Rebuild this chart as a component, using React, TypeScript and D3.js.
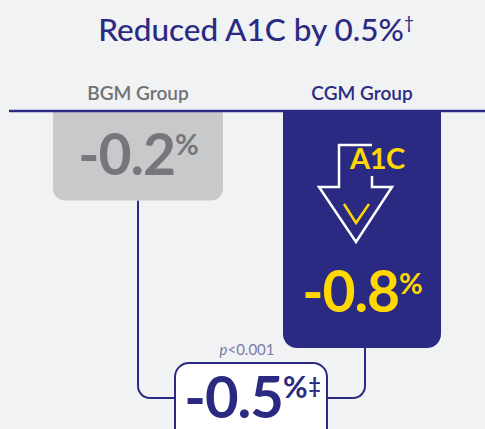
import React from "react";
import * as d3 from "d3";

const groups = ["BGM Group", "CGM Group"];
const changes = [-0.2, -0.8];
const difference = -0.5;
const pLabel = "p<0.001";
const title = "Reduced A1C by 0.5%";

const W = 485;
const H = 429;
const NAVY = "#2b2a82";
const YELLOW = "#ffd800";
const FONT = "Lato, 'Open Sans', sans-serif";

const App = () => {
  // x centres of the two columns
  const x = d3.scalePoint<string>().domain(groups).range([138, 362]);
  const barW = [170, 158];
  const axisY = 111;
  // bars grow down from the axis line; a small offset leaves room for the big number
  const y = d3.scaleLinear().domain([0.16, -0.8]).range([112, 348]);
  const fmt = (v: number) => d3.format(".1f")(v).replace("−", "-");

  const barPath = (cx: number, w: number, v: number, r: number) => {
    const x0 = cx - w / 2;
    const x1 = cx + w / 2;
    const y0 = 112;
    const y1 = y(v);
    const p = d3.path();
    p.moveTo(x0, y0);
    p.lineTo(x1, y0);
    p.lineTo(x1, y1 - r);
    p.arcTo(x1, y1, x1 - r, y1, r);
    p.lineTo(x0 + r, y1);
    p.arcTo(x0, y1, x0, y1 - r, r);
    p.closePath();
    return p.toString();
  };

  const leftX = x(groups[0])!;
  const rightX = x(groups[1])! + 3;
  const linkY = 398;
  const boxL = 175;
  const boxR = 327;
  const boxT = 363;
  const r = 12;

  const leftLink = d3.path();
  leftLink.moveTo(leftX, y(changes[0]));
  leftLink.lineTo(leftX, linkY - r);
  leftLink.arcTo(leftX, linkY, leftX + r, linkY, r);
  leftLink.lineTo(boxL, linkY);

  const rightLink = d3.path();
  rightLink.moveTo(rightX, y(changes[1]));
  rightLink.lineTo(rightX, linkY - r);
  rightLink.arcTo(rightX, linkY, rightX - r, linkY, r);
  rightLink.lineTo(boxR, linkY);

  const cgmX = x(groups[1])!;

  return (
    <svg
      width={W}
      height={H}
      style={{ position: "absolute", left: 0, top: 0, display: "block" }}
      fontFamily={FONT}
    >
      <rect width={W} height={H} fill="#f1f2f4" />

      <text x={256} y={41} textAnchor="middle" fill={NAVY} fontSize={31.5} fontWeight={500}>
        {title}
        <tspan fontSize={17} dy={-12}>†</tspan>
      </text>

      {groups.map((g, i) => (
        <text
          key={g}
          x={x(g)}
          y={100}
          textAnchor="middle"
          fontSize={19}
          fontWeight={600}
          fill={i === 0 ? "#707173" : NAVY}
        >
          {g}
        </text>
      ))}

      <path d={leftLink.toString()} fill="none" stroke={NAVY} strokeWidth={2} />
      <path d={rightLink.toString()} fill="none" stroke={NAVY} strokeWidth={2} />

      {groups.map((g, i) => (
        <path
          key={g}
          d={barPath(x(g)!, barW[i], changes[i], i === 0 ? 12 : 14)}
          fill={i === 0 ? "#c8c9cb" : NAVY}
        />
      ))}

      <line x1={9} x2={W} y1={axisY} y2={axisY} stroke={NAVY} strokeWidth={2.5} />

      {/* BGM value */}
      <text
        x={leftX}
        y={175}
        textAnchor="middle"
        fill="#76777a"
        fontSize={57}
        fontWeight={700}
        letterSpacing={-1}
      >
        {fmt(changes[0])}
        <tspan fontSize={29} dy={-20}>%</tspan>
      </text>

      {/* A1C arrow icon */}
      <g fill="none" stroke="#fff" strokeWidth={2.5} strokeLinejoin="miter">
        <path
          d={`M${cgmX + 10},145 H${cgmX - 23} V187 H${cgmX - 43} L${cgmX - 6},242 L${cgmX + 30},187 H${cgmX + 10} V176`}
        />
      </g>
      <path
        d={`M${cgmX - 18},204 L${cgmX - 6},223 L${cgmX + 7},204`}
        fill="none"
        stroke={YELLOW}
        strokeWidth={2.5}
      />
      <text x={350} y={169} fill={YELLOW} fontSize={29} fontWeight={700} letterSpacing={-0.5}>
        A1C
      </text>

      {/* CGM value */}
      <text
        x={cgmX}
        y={312}
        textAnchor="middle"
        fill={YELLOW}
        fontSize={57}
        fontWeight={700}
        letterSpacing={-1}
      >
        {fmt(changes[1])}
        <tspan fontSize={29} dy={-18}>%</tspan>
      </text>

      {/* difference */}
      <text x={(boxL + boxR) / 2 - 4} y={355} textAnchor="middle" fill="#7a7aa6" fontSize={15}>
        <tspan fontStyle="italic">p</tspan>
        {pLabel.slice(1)}
      </text>
      <rect
        x={boxL}
        y={boxT}
        width={boxR - boxL}
        height={90}
        rx={14}
        fill="#fff"
        stroke={NAVY}
        strokeWidth={2}
      />
      <text
        x={(boxL + boxR) / 2 + 1}
        y={418}
        textAnchor="middle"
        fill={NAVY}
        fontSize={58}
        fontWeight={700}
        letterSpacing={-1}
      >
        {fmt(difference)}
        <tspan fontSize={30} dy={-20}>%</tspan>
        <tspan fontSize={21} dy={-5} dx={2}>‡</tspan>
      </text>
    </svg>
  );
};

export default App;
